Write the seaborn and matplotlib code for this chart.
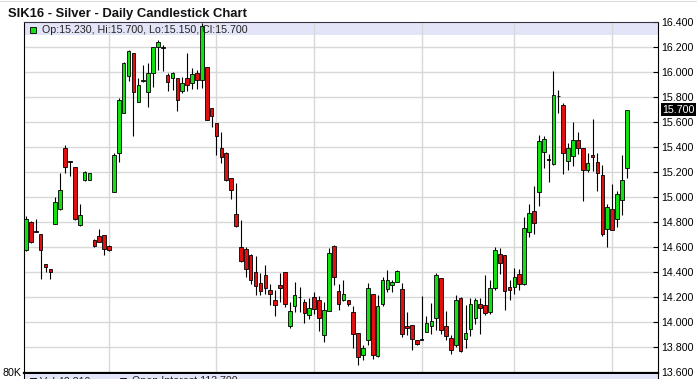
import numpy as np
import pandas as pd
import matplotlib
matplotlib.use("Agg")
import matplotlib.pyplot as plt
from matplotlib.patches import Rectangle
from matplotlib.lines import Line2D
from matplotlib.ticker import FormatStrFormatter
import seaborn as sns

# ---------------- data (SIK16 daily OHLC) ----------------
opens = [14.58, 14.80, 14.73, 14.71, 14.47, 14.43, 14.79, 14.91, 15.39, 15.29,
         15.24, 14.78, 15.14, 15.14, 14.66, 14.69, 14.70, 14.61, 15.04, 15.355,
         15.67, 15.97, 16.15, 15.76, 15.925, 15.84, 15.99, 16.20, 16.20, 15.98,
         15.95, 15.95, 15.845, 15.95, 15.91, 15.99, 15.94, 16.04, 15.71, 15.59,
         15.39, 15.355, 15.157, 14.87, 14.60, 14.589, 14.536, 14.403, 14.317, 14.376,
         14.256, 14.176, 14.296, 14.403, 13.968, 14.131, 14.20, 14.163, 14.056, 14.203,
         14.176, 13.896, 14.091, 14.608, 14.251, 14.181, 14.176, 14.083, 13.917, 13.736,
         13.856, 14.229, 13.728, 14.144, 14.269, 14.301, 14.323, 14.269, 13.971, 13.976,
         13.861, 13.864, 13.923, 13.971, 14.037, 14.357, 13.968, 13.877, 13.816, 14.197,
         13.869, 13.949, 14.037, 14.144, 14.136, 14.083, 14.277, 14.549, 14.536, 14.283,
         14.283, 14.389, 14.309, 14.723, 14.891, 15.043, 15.363, 15.30, 15.264, 15.808,
         15.736, 15.291, 15.328, 15.456, 15.397, 15.221, 15.336, 15.283, 15.176, 14.749,
         14.909, 14.829, 14.976, 15.23]
highs = [14.85, 14.81, 14.83, 14.71, 14.47, 14.43, 15.00, 15.19, 15.42, 15.29,
         15.24, 14.95, 15.21, 15.19, 14.67, 14.75, 14.70, 14.62, 15.35, 15.79,
         16.08, 16.18, 16.15, 15.95, 16.06, 16.07, 16.20, 16.256, 16.216, 15.99,
         16.003, 15.95, 15.96, 16.15, 16.03, 16.016, 16.39, 16.04, 15.71, 15.59,
         15.523, 15.363, 15.157, 15.11, 14.821, 14.60, 14.549, 14.528, 14.395, 14.456,
         14.309, 14.256, 14.395, 14.403, 14.163, 14.323, 14.283, 14.189, 14.197, 14.243,
         14.208, 14.163, 14.597, 14.616, 14.309, 14.336, 14.181, 14.128, 13.917, 13.816,
         14.315, 14.229, 14.216, 14.363, 14.421, 14.336, 14.416, 14.315, 14.083, 13.976,
         13.861, 14.208, 14.048, 14.155, 14.395, 14.357, 14.088, 13.896, 14.216, 14.203,
         14.136, 14.197, 14.197, 14.197, 14.376, 14.336, 14.603, 14.597, 14.536, 14.336,
         14.437, 14.429, 14.843, 14.949, 15.088, 15.496, 15.488, 15.344, 16.008, 15.856,
         15.755, 15.435, 15.603, 15.523, 15.397, 15.355, 15.629, 15.355, 15.256, 14.944,
         15.104, 15.051, 15.336, 15.70]
lows = [14.57, 14.635, 14.72, 14.35, 14.40, 14.35, 14.79, 14.90, 15.195, 15.17,
        14.82, 14.77, 15.13, 15.135, 14.60, 14.64, 14.54, 14.57, 15.04, 15.28,
        15.67, 15.93, 15.49, 15.76, 15.92, 15.72, 15.88, 16.016, 16.01, 15.85,
        15.856, 15.69, 15.835, 15.85, 15.864, 15.864, 15.87, 15.62, 15.56, 15.336,
        15.275, 15.13, 14.99, 14.76, 14.483, 14.363, 14.304, 14.216, 14.216, 14.224,
        14.136, 14.051, 14.163, 14.123, 13.957, 14.083, 14.083, 13.995, 14.024, 14.069,
        13.931, 13.843, 14.09, 14.296, 14.101, 14.171, 14.128, 13.797, 13.656, 13.696,
        13.816, 13.709, 13.723, 14.128, 14.243, 14.243, 14.323, 13.883, 13.901, 13.781,
        13.816, 13.856, 13.923, 13.904, 13.941, 13.909, 13.861, 13.749, 13.803, 13.763,
        13.797, 13.888, 13.984, 13.909, 14.056, 14.069, 14.261, 14.389, 14.096, 14.181,
        14.229, 14.256, 14.296, 14.683, 14.709, 14.928, 15.237, 15.123, 15.26, 15.675,
        15.189, 15.221, 15.248, 15.349, 14.971, 15.203, 15.211, 15.051, 14.688, 14.603,
        14.736, 14.763, 14.856, 15.15]
closes = [14.83, 14.64, 14.72, 14.58, 14.44, 14.40, 14.96, 15.06, 15.24, 15.285,
          14.83, 14.86, 15.20, 15.19, 14.61, 14.64, 14.59, 14.58, 15.34, 15.78,
          16.07, 16.17, 15.84, 15.90, 15.94, 15.99, 16.20, 16.24, 16.19, 15.92,
          15.995, 15.78, 15.91, 15.90, 15.984, 15.94, 16.37, 15.62, 15.65, 15.49,
          15.32, 15.136, 15.06, 14.77, 14.49, 14.429, 14.336, 14.291, 14.251, 14.277,
          14.229, 14.141, 14.277, 14.144, 14.091, 14.216, 14.205, 14.077, 14.117, 14.109,
          14.037, 14.101, 14.557, 14.363, 14.144, 14.224, 14.144, 13.909, 13.723, 13.797,
          14.277, 13.736, 14.128, 14.341, 14.341, 14.323, 14.411, 13.909, 13.955, 13.869,
          13.829, 13.861, 13.995, 14.011, 14.376, 13.936, 13.891, 13.776, 14.181, 13.771,
          13.915, 14.144, 14.181, 14.117, 14.075, 14.277, 14.581, 14.475, 14.251, 14.261,
          14.363, 14.309, 14.757, 14.875, 14.795, 15.448, 15.469, 15.301, 15.816, 15.81,
          15.355, 15.397, 15.461, 15.397, 15.216, 15.275, 15.323, 15.195, 14.704, 14.923,
          14.741, 15.024, 15.141, 15.70]
month_grid = [17, 39, 59, 81, 100, 120]
price_ticks = [13.6, 13.8, 14.0, 14.2, 14.4, 14.6, 14.8, 15.0, 15.2, 15.4, 15.6, 15.8, 16.0, 16.2, 16.4]
title = "SIK16 - Silver - Daily Candlestick Chart"
header = "Op:15.230, Hi:15.700, Lo:15.150, Cl:15.700"
last_label = "15.700"

df = pd.DataFrame({"open": opens, "high": highs, "low": lows, "close": closes})
df["idx"] = np.arange(len(df))

# ---------------- styling ----------------
sns.set_theme(style="white")
plt.rcParams["font.family"] = ["Liberation Sans", "DejaVu Sans"]

W, H = 697, 379
fig = plt.figure(figsize=(W / 100, H / 100), dpi=100)
fig.patch.set_facecolor("white")

def fx(px):
    return px / W

def fy(py):
    return 1 - py / H

ax_top, ax_bot, ax_l, ax_r = 22, 372.5, 24, 658
ax = fig.add_axes([fx(ax_l), fy(ax_bot), (ax_r - ax_l) / W, (ax_bot - ax_top) / H])
ax.set_facecolor("white")
ax.set_ylim(13.6, 16.4)
ax.set_xlim(-0.41, 129.4)

# header band
ax.axhspan(16.4 - 13 / 125, 16.4, color="#e4e4f8", zorder=0.2, lw=0)

# grid
for v in price_ticks[1:-1]:
    ax.axhline(v, color="#d8d8d8", lw=1.0, zorder=0.5)
for m in month_grid:
    ax.axvline(m, color="#d8d8d8", lw=1.0, zorder=0.5)

# wicks
ax.vlines(df["idx"], df["low"], df["high"], color="black", lw=0.8, zorder=2)

# bodies
diff = df["close"] - df["open"]
bottom = np.minimum(df["open"], df["close"])
height = np.maximum(diff.abs(), 0.004)
colors = np.where(diff.abs() < 0.008, "black", np.where(diff > 0, "#11e011", "#e01010"))
ax.bar(df["idx"], height, bottom=bottom, width=0.74, color=colors,
       edgecolor="black", linewidth=0.6, zorder=3)

# axes styling
ax.yaxis.tick_right()
ax.set_yticks(price_ticks)
ax.yaxis.set_major_formatter(FormatStrFormatter("%.3f"))
ax.tick_params(axis="y", direction="in", length=3.8, width=0.8, pad=2.6,
               labelsize=7.7, colors="black", right=True, left=False)
ax.set_xticks([])
for s in ["left", "right"]:
    ax.spines[s].set_color("black")
    ax.spines[s].set_linewidth(0.8)
ax.spines["top"].set_color("#333344")
ax.spines["top"].set_linewidth(0.8)
ax.spines["bottom"].set_color("black")
ax.spines["bottom"].set_linewidth(1.6)

# last price label
ax.annotate(last_label, xy=(1, closes[-1]), xycoords=("axes fraction", "data"),
            xytext=(2.9, 0), textcoords="offset points", va="center", ha="left",
            fontsize=7.7, color="white",
            bbox=dict(boxstyle="square,pad=0.12", fc="black", ec="none"), zorder=10)

# title and header legend
fig.text(fx(7.5), fy(16.5), title, fontsize=9.4, fontweight="bold", va="baseline",
         ha="left", color="#111111")
fig.patches.append(Rectangle((fx(29.5), fy(33.3)), 6.5 / W, 6 / H, transform=fig.transFigure,
                             fc="#11e011", ec="black", lw=0.6, zorder=5))
fig.text(fx(41.5), fy(33.4), header, fontsize=7.7, va="baseline", ha="left", color="#222222",
         zorder=1)

# faint top line
fig.add_artist(Line2D([0, 1], [fy(1), fy(1)], transform=fig.transFigure, color="#dddddd", lw=0.8))

# volume panel strip at bottom
fig.patches.append(Rectangle((fx(ax_l), 0), (ax_r - ax_l) / W, fy(373.5), transform=fig.transFigure,
                             fc="#e4e4f8", ec="none", zorder=0))
fig.add_artist(Line2D([fx(ax_l), fx(ax_l)], [0, fy(ax_bot)], transform=fig.transFigure, color="black", lw=0.8))
fig.add_artist(Line2D([fx(ax_r), fx(ax_r)], [0, fy(ax_bot)], transform=fig.transFigure, color="black", lw=0.8))
fig.patches.append(Rectangle((fx(29.5), fy(384)), 6.5 / W, 6.5 / H, transform=fig.transFigure,
                             fc="#1a6b1a", ec="black", lw=0.6, zorder=5))
fig.text(fx(40), fy(384), "Vol 42,810", fontsize=7.7, va="baseline", ha="left", color="#222222")
fig.patches.append(Rectangle((fx(119.5), fy(384)), 6.5 / W, 6.5 / H, transform=fig.transFigure,
                             fc="#8a1ad0", ec="black", lw=0.6, zorder=5))
fig.text(fx(131.5), fy(384), "Open Interest 113,700", fontsize=7.7, va="baseline", ha="left", color="#222222")
fig.text(fx(2.5), fy(375.8), "80K", fontsize=7.7, va="baseline", ha="left", color="black")

fig.savefig("out.png", dpi=100)
